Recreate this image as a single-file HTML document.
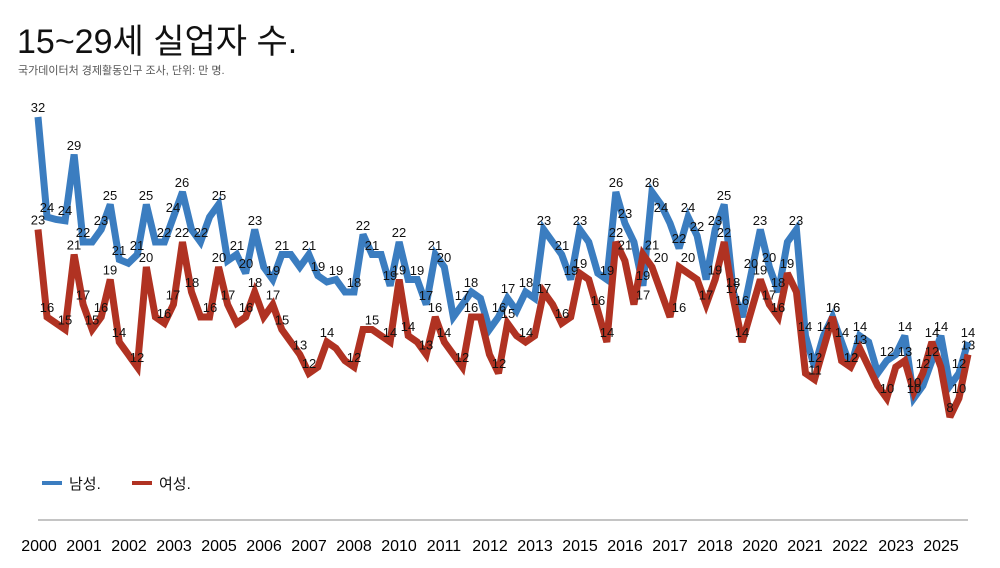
<!DOCTYPE html>
<html><head><meta charset="utf-8"><style>
body{margin:0;background:#fff;width:1000px;height:563px;overflow:hidden;font-family:"Liberation Sans","Noto Sans CJK KR",sans-serif}
</style></head><body>
<svg width="1000" height="563" viewBox="0 0 1000 563" xmlns="http://www.w3.org/2000/svg" font-family="Liberation Sans, Noto Sans CJK KR, sans-serif">
<rect width="1000" height="563" fill="#fff"/>
<text x="17" y="53" font-size="34" fill="#111">15~29세 실업자 수.</text>
<text x="18" y="74" font-size="11" fill="#555">국가데이터처 경제활동인구 조사, 단위: 만 명.</text>
<g transform="matrix(9.029 0 0 -12.5 38 517)" fill="none" stroke-width="7" stroke-linejoin="miter" stroke-miterlimit="3">
<polyline vector-effect="non-scaling-stroke" stroke="#3b7dc0" points="0,32 1,24 2,23.8 3,23.7 4,29 5,22 6,22 7,23 8,25 9,20.6 10,20.3 11,21 12,25 13,22 14,22 15,24 16,26 17,23 18,22 19,24 20,25 21,20.5 22,21 23,19.5 24,23 25,20 26,19 27,21 28,21 29,20 30,21 31,19.3 32,18.8 33,19 34,18 35,18 36,22.6 37,21 38,21 39,18.5 40,22 41,19 42,19 43,17 44,21 45,20 46,16 47,17 48,18 49,17.5 50,15 51,16 52,17.5 53,16.5 54,18 55,17.5 56,23 57,22 58,21 59,19 60,23 61,22 62,19.5 63,19 64,26 65,23.5 66,22 67,18.5 68,26 69,25 70,23.5 71,21.5 72,24 73,22.5 74,19 75,23 76,25 77,18 78,16 79,19.5 80,23 81,20 82,18 83,22 84,23 85,14.5 86,12 87,14.5 88,16 89,14 90,12 91,14.5 92,14 93,11.5 94,12.5 95,13 96,14.5 97,9.5 98,10.5 99,12.5 100,14.5 101,10.5 102,11.5 103,14"/>
<polyline vector-effect="non-scaling-stroke" stroke="#b03222" points="0,23 1,16 2,15.5 3,15 4,21 5,17 6,15 7,16 8,19 9,14 10,13 11,12 12,20 13,16 14,15.5 15,17 16,22 17,18 18,16 19,16 20,20 21,17 22,15.5 23,16 24,18 25,16 26,17 27,15 28,14 29,13 30,11.5 31,12 32,14 33,13.5 34,12.5 35,12 36,15 37,15 38,14.5 39,14 40,19 41,14.5 42,14 43,13 44,16 45,14 46,13 47,12 48,16 49,16 50,13 51,11.5 52,15.5 53,14.5 54,14 55,14.5 56,18 57,17 58,15.5 59,16 60,19.5 61,19 62,16.5 63,14 64,22 65,20.5 66,17 67,21 68,20 69,18 70,16 71,20 72,19.5 73,19 74,17 75,19 76,22 77,17.5 78,14 79,16.5 80,19 81,17 82,16 83,19.5 84,18 85,11.5 86,11 87,13.5 88,16 89,12.5 90,12 91,13.5 92,12 93,10.5 94,9.5 95,12 96,12.5 97,10 98,11.5 99,14 100,12 101,8 102,9.5 103,13"/>
</g>
<g font-size="13" fill="#111" text-anchor="middle">
<text x="38" y="112">32</text><text x="47" y="212">24</text><text x="65" y="215">24</text><text x="74" y="150">29</text><text x="83" y="237">22</text><text x="101" y="225">23</text><text x="110" y="200">25</text><text x="119" y="255">21</text><text x="137" y="250">21</text><text x="146" y="200">25</text><text x="164" y="237">22</text><text x="173" y="212">24</text><text x="182" y="187">26</text><text x="201" y="237">22</text><text x="219" y="200">25</text><text x="237" y="250">21</text><text x="246" y="268">20</text><text x="255" y="225">23</text><text x="273" y="275">19</text><text x="282" y="250">21</text><text x="309" y="250">21</text><text x="318" y="271">19</text><text x="336" y="275">19</text><text x="354" y="287">18</text><text x="363" y="230">22</text><text x="372" y="250">21</text><text x="390" y="280">19</text><text x="399" y="237">22</text><text x="417" y="275">19</text><text x="426" y="300">17</text><text x="435" y="250">21</text><text x="444" y="262">20</text><text x="462" y="300">17</text><text x="471" y="287">18</text><text x="499" y="312">16</text><text x="508" y="293">17</text><text x="526" y="287">18</text><text x="544" y="225">23</text><text x="562" y="250">21</text><text x="571" y="275">19</text><text x="580" y="225">23</text><text x="607" y="275">19</text><text x="616" y="187">26</text><text x="625" y="218">23</text><text x="643" y="280">19</text><text x="652" y="187">26</text><text x="661" y="212">24</text><text x="679" y="243">22</text><text x="688" y="212">24</text><text x="697" y="231">22</text><text x="715" y="225">23</text><text x="724" y="200">25</text><text x="733" y="287">18</text><text x="742" y="305">16</text><text x="751" y="268">20</text><text x="760" y="225">23</text><text x="769" y="262">20</text><text x="778" y="287">18</text><text x="796" y="225">23</text><text x="805" y="331">14</text><text x="815" y="362">12</text><text x="824" y="331">14</text><text x="833" y="312">16</text><text x="842" y="337">14</text><text x="851" y="362">12</text><text x="860" y="331">14</text><text x="887" y="356">12</text><text x="905" y="331">14</text><text x="914" y="393">10</text><text x="932" y="356">12</text><text x="941" y="331">14</text><text x="959" y="368">12</text><text x="968" y="337">14</text>
<text x="38" y="224.5">23</text><text x="47" y="312">16</text><text x="65" y="324.5">15</text><text x="74" y="249.5">21</text><text x="83" y="299.5">17</text><text x="92" y="324.5">15</text><text x="101" y="312">16</text><text x="110" y="274.5">19</text><text x="119" y="337">14</text><text x="137" y="362">12</text><text x="146" y="262">20</text><text x="164" y="318">16</text><text x="173" y="299.5">17</text><text x="182" y="237">22</text><text x="192" y="287">18</text><text x="210" y="312">16</text><text x="219" y="262">20</text><text x="228" y="299.5">17</text><text x="246" y="312">16</text><text x="255" y="287">18</text><text x="273" y="299.5">17</text><text x="282" y="324.5">15</text><text x="300" y="349.5">13</text><text x="309" y="368">12</text><text x="327" y="337">14</text><text x="354" y="362">12</text><text x="372" y="324.5">15</text><text x="390" y="337">14</text><text x="399" y="274.5">19</text><text x="408" y="331">14</text><text x="426" y="349.5">13</text><text x="435" y="312">16</text><text x="444" y="337">14</text><text x="462" y="362">12</text><text x="471" y="312">16</text><text x="499" y="368">12</text><text x="508" y="318">15</text><text x="526" y="337">14</text><text x="544" y="293">17</text><text x="562" y="318">16</text><text x="580" y="268">19</text><text x="598" y="305">16</text><text x="607" y="337">14</text><text x="616" y="237">22</text><text x="625" y="249.5">21</text><text x="643" y="299.5">17</text><text x="652" y="249.5">21</text><text x="661" y="262">20</text><text x="679" y="312">16</text><text x="688" y="262">20</text><text x="706" y="299.5">17</text><text x="715" y="274.5">19</text><text x="724" y="237">22</text><text x="733" y="293">17</text><text x="742" y="337">14</text><text x="760" y="274.5">19</text><text x="769" y="299.5">17</text><text x="778" y="312">16</text><text x="787" y="268">19</text><text x="815" y="374.5">11</text><text x="833" y="312">16</text><text x="851" y="362">12</text><text x="860" y="344">13</text><text x="887" y="393">10</text><text x="905" y="356">13</text><text x="914" y="387">10</text><text x="923" y="368">12</text><text x="932" y="337">14</text><text x="950" y="412">8</text><text x="959" y="393">10</text><text x="968" y="349.5">13</text>
</g>
<line x1="42" y1="483" x2="62" y2="483" stroke="#3b7dc0" stroke-width="4"/>
<text x="69" y="489" font-size="15" fill="#111">남성.</text>
<line x1="132" y1="483" x2="152" y2="483" stroke="#b03222" stroke-width="4"/>
<text x="159" y="489" font-size="15" fill="#111">여성.</text>
<line x1="38" y1="520" x2="968" y2="520" stroke="#888" stroke-width="1"/>
<g font-size="16" fill="#000" text-anchor="middle">
<text x="39" y="551">2000</text><text x="84" y="551">2001</text><text x="129" y="551">2002</text><text x="174" y="551">2003</text><text x="219" y="551">2005</text><text x="264" y="551">2006</text><text x="309" y="551">2007</text><text x="354" y="551">2008</text><text x="399" y="551">2010</text><text x="444" y="551">2011</text><text x="490" y="551">2012</text><text x="535" y="551">2013</text><text x="580" y="551">2015</text><text x="625" y="551">2016</text><text x="670" y="551">2017</text><text x="715" y="551">2018</text><text x="760" y="551">2020</text><text x="805" y="551">2021</text><text x="850" y="551">2022</text><text x="896" y="551">2023</text><text x="941" y="551">2025</text>
</g>
</svg>
</body></html>
